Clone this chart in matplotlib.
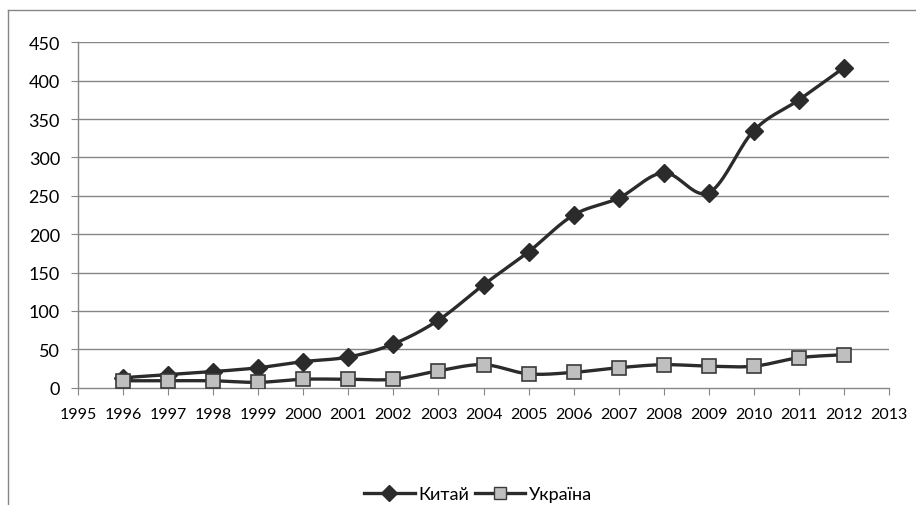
import numpy as np
import matplotlib
matplotlib.use("Agg")
import matplotlib.pyplot as plt
from matplotlib.lines import Line2D

years = [1996, 1997, 1998, 1999, 2000, 2001, 2002, 2003, 2004, 2005, 2006,
         2007, 2008, 2009, 2010, 2011, 2012]
china = [13, 17, 21, 26, 34, 40, 57, 88, 134, 177, 225, 247, 280, 254, 335, 375, 417]
ukraine = [9, 9, 9, 7, 11, 11, 11, 22, 30, 18, 20, 26, 30, 28, 28, 39, 43]
x_ticks = list(range(1995, 2014))
y_ticks = [0, 50, 100, 150, 200, 250, 300, 350, 400, 450]
labels = ["Китай", "Україна"]

plt.rcParams['font.family'] = ['Lato', 'DejaVu Sans']


def smooth(x, y, n=20):
    # Catmull-Rom style curve through the points (Excel "smoothed line")
    x = np.asarray(x, float)
    y = np.asarray(y, float)
    px = np.concatenate([[x[0]], x, [x[-1]]])
    py = np.concatenate([[y[0]], y, [y[-1]]])
    xs, ys = [], []
    for i in range(1, len(px) - 2):
        p0x, p1x, p2x, p3x = px[i - 1], px[i], px[i + 1], px[i + 2]
        p0y, p1y, p2y, p3y = py[i - 1], py[i], py[i + 1], py[i + 2]
        c1x = p1x + (p2x - p0x) / 6
        c1y = p1y + (p2y - p0y) / 6
        c2x = p2x - (p3x - p1x) / 6
        c2y = p2y - (p3y - p1y) / 6
        t = np.linspace(0, 1, n)
        bx = (1 - t) ** 3 * p1x + 3 * (1 - t) ** 2 * t * c1x + 3 * (1 - t) * t ** 2 * c2x + t ** 3 * p2x
        by = (1 - t) ** 3 * p1y + 3 * (1 - t) ** 2 * t * c1y + 3 * (1 - t) * t ** 2 * c2y + t ** 3 * p2y
        xs.extend(bx)
        ys.extend(by)
    return np.array(xs), np.array(ys)


fig = plt.figure(figsize=(9.16, 5.06), dpi=100)
ax = fig.add_axes([78 / 916, 1 - 388.7 / 506, (889 - 78) / 916, (388.7 - 43.3) / 506])

grid_c = '#868686'
line_c = '#2b2b2b'

for yv in y_ticks[1:]:
    ax.axhline(yv, color=grid_c, lw=1.0, zorder=0)

sx, sy = smooth(years, china)
ax.plot(sx, sy, color=line_c, lw=2.4, zorder=3, solid_capstyle='round')
ax.plot(years, china, linestyle='none', marker='D', ms=9.5, mfc=line_c, mec=line_c, zorder=4)
sx, sy = smooth(years, ukraine)
ax.plot(sx, sy, color=line_c, lw=2.4, zorder=3, solid_capstyle='round')
ax.plot(years, ukraine, linestyle='none', marker='s', ms=10.5, mfc='#bfbfbf', mec='#3a3a3a', mew=1.2, zorder=5)

ax.set_xlim(1995, 2013)
ax.set_ylim(0, 450)
ax.set_xticks(x_ticks)
ax.set_xticklabels([str(v) for v in x_ticks])
ax.set_yticks(y_ticks)
ax.set_yticklabels([str(v) for v in y_ticks])
ax.tick_params(axis='x', length=5, color=grid_c, labelsize=11.5, pad=9, labelcolor='black')
ax.tick_params(axis='y', length=5, color=grid_c, labelsize=13, pad=8, labelcolor='black')
for s in ['top', 'right']:
    ax.spines[s].set_visible(False)
for s in ['left', 'bottom']:
    ax.spines[s].set_color(grid_c)
    ax.spines[s].set_linewidth(1.0)

# outer chart frame (partially cropped)
fig.add_artist(Line2D([8 / 916, 1.0], [1 - 11 / 506, 1 - 11 / 506], color=grid_c, lw=1.0, transform=fig.transFigure))
fig.add_artist(Line2D([8 / 916, 8 / 916], [1 - 11 / 506, 0.0], color=grid_c, lw=1.0, transform=fig.transFigure))

handles = [
    Line2D([], [], color=line_c, lw=2.4, marker='D', ms=8, mfc=line_c, mec=line_c),
    Line2D([], [], color=line_c, lw=2.4, marker='s', ms=9, mfc='#bfbfbf', mec='#3a3a3a'),
]
fig.legend(handles, labels, loc='center', bbox_to_anchor=(478 / 916, 1 - 495 / 506), ncol=2,
           frameon=False, fontsize=13, handlelength=2.8, columnspacing=0.3, handletextpad=0.2,
           borderaxespad=0, borderpad=0)

fig.savefig('out.png', dpi=100)
